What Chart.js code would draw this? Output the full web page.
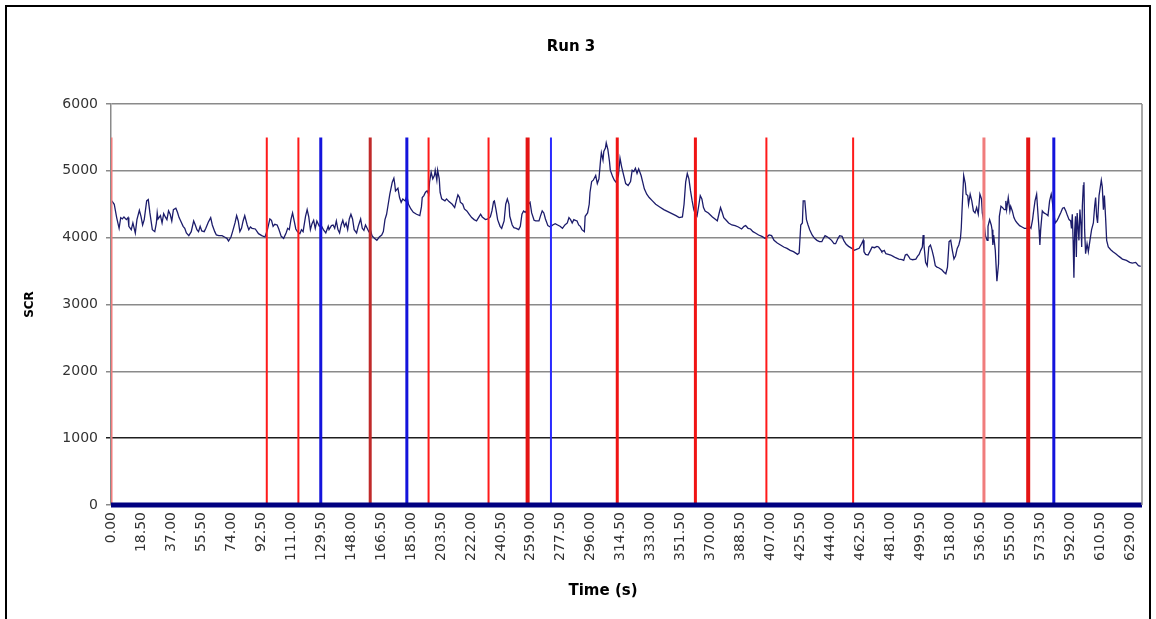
<!DOCTYPE html>
<html>
<head>
<meta charset="utf-8">
<title>Run 3</title>
<script src="https://cdn.jsdelivr.net/npm/chart.js@4.4.1/dist/chart.umd.min.js"></script>
<style>
  html, body { margin: 0; padding: 0; background: #fff; }
  #wrap { width: 1156px; height: 619px; position: relative; }
</style>
</head>
<body>
<div id="wrap"><canvas id="runChart"></canvas></div>
<script>
// SCR signal, time in seconds
const scrTime = [
  0.5,2,3.5,5,6,7,8,9.5,10.5,11, 12.5,13.5,15,16,17.5,18.5,19.5,20.5,22,23,
  24,25.5,27,28,28.5,29,30.5,31.5,32.5,33.5, 34.5,35.5,36.5,37.5,38.5,40,41,42,43,44.5,
  45.5,46.5,48,49.5,51,52,53,54,55,56, 57.5,58.5,60,61.5,62.5,64,65,66.5,68.5,70,
  71.5,72.5,74,75,76.5,77.5,78.5,79.5,80.5,81.5, 82.5,84,85,86,87,89,
  91,93,95,96.5,98,99,100,101,102.5,103.5, 105,106.5,108,109,110,111,112,113,114,115,
  116.5,117.5,118.5,120,121,122,123,124,125,126, 127,128.5,129.5,131,132.5,134,134.5,136,137,138,
  139,140,141,142,143,144,145,146,147,148, 149,150,151.5,152.5,154,155,156,157,158,159,
  160,161,162.5,164,165.5,167,168,169,170,171, 172,173.5,174.5,175,175.5,177,178,179,180,181.5,
  182.5,183.5,185,186.5,188.5,190.5,191.5,192,193,194, 195,196,196.5,197.5,198.5,199.5,200,201,201.5,202.5,
  203,204,206,207,208.5,210.5,212,213,214,215, 215.5,217,218,219.5,221,222.5,224,225.5,227,228,
  229,231,232.5,234,235,236,236.5,237.5,238.5,240, 241,242.5,243.5,244.5,245.5,246,247.5,248.5,250,251.5,
  252.5,253.5,254.5,255.5,257,257.5,258.5,259.5,261,262, 264,265,266,267,268,269.5,271,272.5,274,
  275.5,277,278.5,280,281.5,282.5,283.5,284.5,285.5,286.5, 287.5,288.5,289.5,290.5,292,292.5,294,295,295.5,296.5,
  297.5,299,300,301,302,302.5,303.5,304,305,305.5, 306.5,307.5,308,309.5,310.5,311.5,313,314,315,316.5,
  317.5,319,320.5,321.5,322.5,323.5,324.5,325.5,327,328, 329,330.5,332,334,336,338.5,341,343.5,346,348.5,
  350.5,352.5,353.5,354.5,355.5,356.5,357.5,358.5,359.5,360.5, 361.5,362.5,363.5,364.5,365.5,366.5,
  368.5,371,373,374,375,376,377,378,379.5,381, 383,385,387,389,390.5,391.5,393,394.5,396,397.5,
  399.5,401.5,403.5,406,407.5,409,411,413,415,417, 419,421,423.5,424.5,425.5,426.5,427,428,429,430,
  431,432.5,434,435.5,437,438.5,439.5,440.5,442,443, 444.5,446,447,448.5,449.5,451,452,453.5,455,457,
  458.5,459.5,
  461.5,463,464,464.5,465.5,467,468.5,469.5,471,472.5, 473.5,475,475.5,477,478,479.5,481,482.5,484,486,
  488,489,490,491,492,493,494.5,496.5,497.5,498.5, 499.5,500.5,501,501.5,502.5,503.5,504.5,505.5,506.5,507.5,
  508.5,509.5,510.5,512.5,514,515,516,517,518,519, 520,521,522,523,524,524.5,525,526,527,527.5,
  528.5,529,530,531,532,533,534,535,536,537, 537.5,538.5,539.5,540.5,541,542,543,543.5,544,544.5,
  545.5,546.5,547.5,548,549,550,551,551.5,
  552,552.5,553.5,554.5,555,556,557,558,559,560.5, 562,563.5,565,566.5,567.5,568.5,569,570,571,571.5,
  572.5,573,573.5,574.5,575.5,577,578,579,580,580.5, 581.5,582.5,583.5,584.5,586,587,588,589,590,591,
  592,592.5,593,593.5,594,594.5,595,595.5,596,597.1, 597.7,598.4,598.8,599.2,599.8,600.2,600.6,601.2,602.1,602.9,
  603.9,604.9,606,606.8,607.4,608,608.6,609.5,610.3,610.9, 611.5,612.2,612.8,613.6,614.2,615.2,616.7,618.1,619.8,621.8,
  623.9,626.4,628.4,630,632.1,633.8,635.2
];
const scrValue = [
  4550,4500,4300,4140,4300,4280,4310,4270,4300,4170, 4120,4220,4070,4270,4410,4320,4190,4270,4550,4570,
  4370,4120,4090,4220,4370,4280,4330,4220,4360,4310, 4270,4400,4350,4250,4420,4440,4380,4300,4250,4170,
  4140,4070,4030,4090,4250,4190,4120,4090,4170,4100, 4090,4140,4230,4300,4190,4090,4040,4030,4030,4010,
  3990,3950,4010,4090,4220,4330,4250,4090,4140,4250, 4330,4190,4120,4160,4140,4130,
  4060,4030,4010,4120,4280,4260,4170,4200,4190,4130, 4020,3990,4070,4140,4120,4270,4370,4250,4130,4090,
  4060,4120,4090,4320,4420,4310,4120,4210,4260,4140, 4250,4170,4190,4120,4070,4170,4120,4180,4190,4140,
  4250,4120,4070,4190,4260,4170,4220,4120,4280,4350, 4280,4120,4070,4170,4280,4140,4110,4190,4140,4090,
  4120,4030,3990,3960,4010,4040,4090,4270,4350,4500, 4650,4830,4890,4810,4700,4740,4600,4530,4580,4550,
  4630,4500,4430,4380,4350,4330,4460,4600,4630,4680, 4700,4650,4830,4980,4880,4930,5010,4860,5010,4880,
  4680,4580,4550,4580,4540,4500,4450,4550,4640,4600, 4530,4500,4430,4400,4350,4300,4270,4250,4310,4350,
  4310,4270,4280,4310,4400,4540,4550,4420,4270,4170, 4140,4250,4500,4580,4500,4320,4190,4150,4140,4120,
  4170,4350,4400,4380,4420,4500,4530,4370,4260,4250, 4250,4330,4400,4370,4280,4180,4160,4190,4210,
  4190,4170,4140,4190,4220,4300,4270,4220,4270,4260, 4250,4190,4170,4120,4090,4320,4370,4500,4680,4840,
  4860,4930,4810,4880,5160,5270,5160,5290,5340,5420, 5320,5140,5010,4910,4860,4830,4930,5190,5060,4910,
  4810,4780,4840,5010,4990,5040,4960,5030,4930,4830, 4730,4650,4600,4550,4500,4460,4420,4390,4360,4330,
  4300,4310,4500,4830,4960,4880,4700,4550,4420,4350, 4320,4470,4630,4580,4450,4400,
  4370,4310,4270,4250,4350,4450,4380,4300,4260,4220, 4190,4180,4160,4130,4170,4180,4140,4130,4090,4070,
  4040,4020,3990,4040,4030,3960,3920,3890,3860,3840, 3810,3790,3750,3770,4190,4220,4550,4550,4270,4190,
  4120,4040,3990,3960,3940,3940,3990,4030,4010,3990, 3960,3910,3910,3990,4030,4020,3960,3900,3870,3840,
  3810,3820,
  3840,3910,3960,3790,3750,3740,3810,3860,3850,3870, 3860,3810,3790,3810,3760,3750,3740,3720,3700,3680,
  3670,3660,3740,3750,3720,3680,3670,3680,3720,3750, 3810,3860,4040,3890,3630,3580,3860,3890,3810,3710,
  3580,3560,3550,3520,3480,3460,3560,3940,3960,3810, 3680,3730,3840,3890,3990,4140,4420,4930,4810,4650,
  4630,4500,4650,4550,4400,4370,4450,4350,4650,4580, 4370,4220,4020,3960,4170,4270,4190,4120,3890,4040,
  3810,3350,3610,4320,4470,4450,4420,4420,
  4550,4420,4600,4400,4470,4400,4300,4250,4220,4180, 4160,4140,4140,4170,4140,4270,4370,4550,4650,4470,
  4120,3890,4120,4400,4370,4350,4330,4550,4650,4580, 4370,4220,4250,4300,4380,4440,4450,4400,4330,4270,
  4250,4140,4350,3960,3400,4120,4320,3710,4370,3960, 4420,4170,3860,4470,4780,4830,4120,3760,3910,3790,
  3960,4120,4220,4470,4600,4320,4220,4630,4760,4860, 4760,4420,4630,4270,3960,3860,3820,3790,3760,3720,
  3680,3660,3630,3620,3630,3580,3570
];

// event markers (s)
const lightRedMarks = [0, 538.5];
const redMarks = [96.1, 115.6, 195.9, 232.9, 404.3, 457.8];
const redMidMarks = [312.3, 360.5];
const redThickMarks = [257.0, 565.8];
const darkRedMarks = [159.9];
const blueMarks = [129.4, 182.5, 581.6];
const blueThinMarks = [271.4];
const markerTop = 5500;

const xTicks = [0, 18.5, 37, 55.5, 74, 92.5, 111, 129.5, 148, 166.5, 185, 203.5, 222, 240.5,
  259, 277.5, 296, 314.5, 333, 351.5, 370, 388.5, 407, 425.5, 444, 462.5, 481, 499.5,
  518, 536.5, 555, 573.5, 592, 610.5, 629];
const xMax = 636;
const yMax = 6000;
const yStep = 1000;

function markerLine(times) {
    const pts = [];
    times.forEach(t => {
        pts.push({ x: t, y: 0 }, { x: t, y: markerTop }, { x: t, y: null });
    });
    return pts;
}

function markerSet(times, color, width) {
    return { data: markerLine(times), borderColor: color, borderWidth: width, pointRadius: 0, spanGaps: false };
}

const scrPoints = scrTime.map((t, i) => ({ x: t, y: scrValue[i] }));

// outer box, right edge of plot and the x title
const framePlugin = {
    id: 'frame',
    afterDraw(chart) {
        const { ctx, chartArea } = chart;
        ctx.save();
        ctx.strokeStyle = '#8c8c8c';
        ctx.lineWidth = 1.5;
        ctx.beginPath();
        ctx.moveTo(chartArea.right, chartArea.top);
        ctx.lineTo(chartArea.right, chartArea.bottom);
        ctx.stroke();
        ctx.strokeStyle = '#000';
        ctx.lineWidth = 2;
        ctx.strokeRect(6, 6, 1144, 640);
        ctx.fillStyle = '#000';
        ctx.font = 'bold 15px "DejaVu Sans"';
        ctx.textAlign = 'center';
        ctx.textBaseline = 'middle';
        ctx.fillText('Time (s)', 603, 591);
        ctx.restore();
    }
};

Chart.defaults.font.family = '"DejaVu Sans", sans-serif';

new Chart(document.getElementById('runChart'), {
    type: 'line',
    data: {
        datasets: [
            { data: [{ x: 0, y: 0 }, { x: xMax, y: 0 }], borderColor: '#000080', borderWidth: 5, pointRadius: 0, clip: false },
            markerSet(blueMarks, '#1414dc', 3),
            markerSet(blueThinMarks, '#2a2aff', 2),
            markerSet(redThickMarks, '#e41414', 4),
            markerSet(redMidMarks, '#f01414', 3),
            markerSet(redMarks, '#ff1a1a', 2),
            markerSet(darkRedMarks, '#c02a2a', 3),
            markerSet(lightRedMarks, '#f07c7c', 3),
            { data: scrPoints, borderColor: '#1c1c6b', borderWidth: 1.3, pointRadius: 0, tension: 0 }
        ]
    },
    options: {
        responsive: true,
        maintainAspectRatio: false,
        animation: false,
        layout: { padding: { left: 0, right: 14, top: 0, bottom: 0 } },
        plugins: {
            legend: { display: false },
            tooltip: { enabled: false },
            title: {
                display: true,
                text: 'Run 3',
                color: '#000',
                font: { size: 15, weight: 'bold' },
                padding: { top: 38, bottom: 48 }
            }
        },
        scales: {
            x: {
                type: 'linear',
                min: 0,
                max: xMax,
                afterBuildTicks: s => { s.ticks = xTicks.map(v => ({ value: v })); },
                afterFit: s => { s.height = 114; },
                grid: { display: false, drawTicks: false },
                border: { display: false },
                ticks: {
                    autoSkip: false,
                    minRotation: 90,
                    maxRotation: 90,
                    padding: 7,
                    color: '#333',
                    font: { size: 14 },
                    callback: v => Number(v).toFixed(2)
                }
            },
            y: {
                min: 0,
                max: yMax,
                afterFit: s => { s.width = 111; },
                ticks: {
                    stepSize: yStep,
                    padding: 8,
                    color: '#333',
                    font: { size: 14 },
                    callback: v => String(v)
                },
                grid: {
                    color: c => c.tick && c.tick.value === 1000 ? '#1e1e1e' : '#8a8a8a',
                    lineWidth: 1.5,
                    tickLength: 5
                },
                border: { color: '#8a8a8a', width: 1.5 },
                title: {
                    display: true,
                    text: 'SCR',
                    color: '#000',
                    font: { size: 12, weight: 'bold' },
                    padding: { top: 23, bottom: 0 }
                }
            }
        }
    },
    plugins: [framePlugin]
});
</script>
</body>
</html>
